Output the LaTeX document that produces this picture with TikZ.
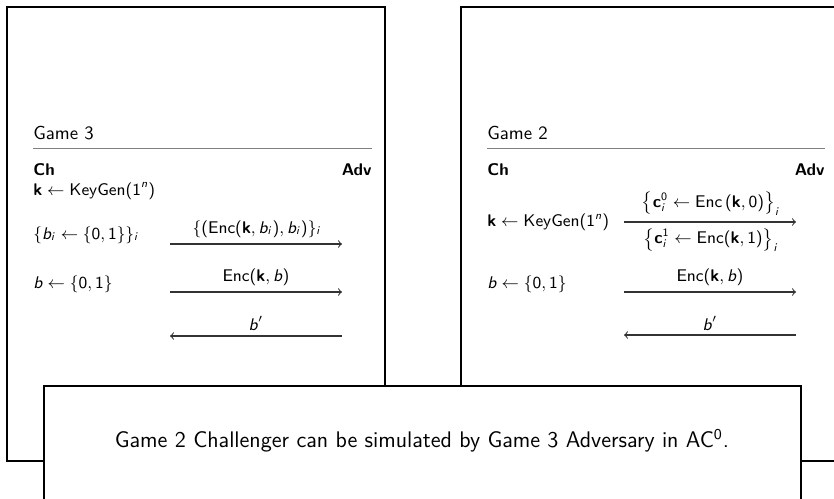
\documentclass[tikz,border=0pt]{standalone}
% sans-serif math: digits, parentheses and operator names from cmss,
% the variables b, i, n slanted sans
\DeclareSymbolFont{operators}{OT1}{cmss}{m}{n}
\SetSymbolFont{operators}{bold}{OT1}{cmss}{bx}{n}
\DeclareSymbolFont{sfslanted}{OT1}{cmss}{m}{sl}
\DeclareMathSymbol{b}{\mathalpha}{sfslanted}{`b}
\DeclareMathSymbol{i}{\mathalpha}{sfslanted}{`i}
\DeclareMathSymbol{n}{\mathalpha}{sfslanted}{`n}
\begin{document}
\begin{tikzpicture}[x=0.532pt,y=-0.532pt,
  panel/.style={draw=black, line width=1.2pt, fill=white},
  titletxt/.style={inner sep=0pt, font=\fontsize{10}{12}\selectfont\sffamily},
  txt/.style={inner sep=0pt, font=\fontsize{9}{11}\selectfont\sffamily},
  bigtxt/.style={inner sep=0pt, font=\fontsize{12}{14}\selectfont\sffamily},
  msg/.style={draw=black!80, line width=0.55pt, ->},
  titlerule/.style={draw=black!50, line width=0.9pt}]
\useasboundingbox (0,0) rectangle (834,498);

% Game 3 panel
\draw[panel] (7,7) rectangle (385,461);
\node[titletxt, anchor=base west] (g3) at (33,139) {Game 3};
\coordinate (r3a) at (33,148.5);
\coordinate (r3b) at (372,148.5);
\draw[titlerule] (r3a) -- (r3b);
\node[txt, anchor=base west] (ch3) at (33,175) {\bfseries Ch};
\node[txt, anchor=base east] (adv3) at (372,175) {\bfseries Adv};
\node[txt, anchor=base west] (kg3) at (33,195) {$\textbf{k} \leftarrow \textsf{KeyGen}(1^n)$};
\node[txt, anchor=base west] (bi3) at (33,239) {$\{b_i \leftarrow \{0,1\}\}_i$};
\node[txt, anchor=base west] (b3) at (33,288) {$b \leftarrow \{0,1\}$};

\coordinate (m31s) at (170,244);  \coordinate (m31e) at (342,244);
\coordinate (m32s) at (170,292);  \coordinate (m32e) at (342,292);
\coordinate (m33s) at (342,336);  \coordinate (m33e) at (170,336);
\draw[msg] (m31s) -- (m31e);
\draw[msg] (m32s) -- (m32e);
\draw[msg] (m33s) -- (m33e);
\node[txt, anchor=base] (l31) at (257,233) {$\{(\textsf{Enc}(\textbf{k},b_i),b_i)\}_i$};
\node[txt, anchor=base] (l32) at (256,281) {$\textsf{Enc}(\textbf{k},b)$};
\node[txt, anchor=base] (l33) at (256,330) {$b'$};

% Game 2 panel
\draw[panel] (461,7) rectangle (850,461);
\node[titletxt, anchor=base west] (g2) at (487,139) {Game 2};
\coordinate (r2a) at (487,148.5);
\coordinate (r2b) at (825,148.5);
\draw[titlerule] (r2a) -- (r2b);
\node[txt, anchor=base west] (ch2) at (487,175) {\bfseries Ch};
\node[txt, anchor=base east] (adv2) at (825,175) {\bfseries Adv};
\node[txt, anchor=west] (kg2) at (487,222) {$\textbf{k} \leftarrow \textsf{KeyGen}(1^n)$};
\node[txt, anchor=base west] (b2) at (487,288) {$b \leftarrow \{0,1\}$};

\coordinate (m21s) at (624,222);  \coordinate (m21e) at (796,222);
\coordinate (m22s) at (624,292);  \coordinate (m22e) at (796,292);
\coordinate (m23s) at (796,335);  \coordinate (m23e) at (624,335);
\draw[msg] (m21s) -- (m21e);
\draw[msg] (m22s) -- (m22e);
\draw[msg] (m23s) -- (m23e);
\node[txt, anchor=south] (l21a) at (711,216) {$\left\{\textbf{c}_i^0 \leftarrow \textsf{Enc}\left(\textbf{k},0\right)\right\}_i$};
\node[txt, anchor=north] (l21b) at (711,228) {$\left\{\textbf{c}_i^1 \leftarrow \textsf{Enc}(\textbf{k},1)\right\}_i$};
\node[txt, anchor=base] (l22) at (710,281) {$\textsf{Enc}(\textbf{k},b)$};
\node[txt, anchor=base] (l23) at (710,330) {$b'$};

% Summary panel on top
\draw[panel] (44,386) rectangle (801,515);
\node[bigtxt] (note) at (422,441) {Game 2 Challenger can be simulated by Game 3 Adversary in AC$^0$.};
\end{tikzpicture}
\end{document}
